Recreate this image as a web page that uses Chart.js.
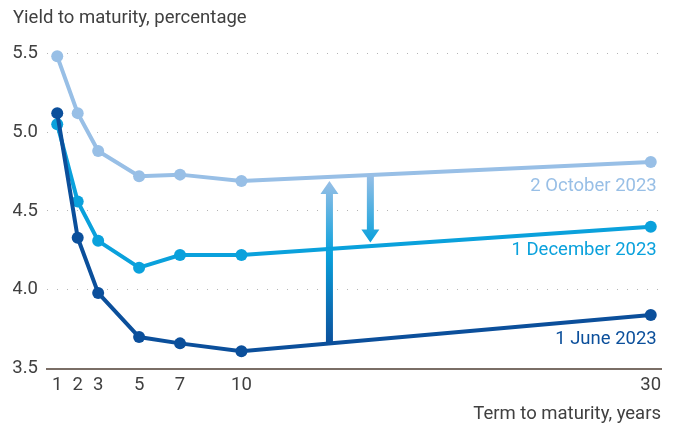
<!DOCTYPE html>
<html>
<head>
<meta charset="utf-8">
<script src="https://cdn.jsdelivr.net/npm/chart.js@4.4.1/dist/chart.umd.min.js"></script>
<style>
  html, body { margin: 0; padding: 0; background: #ffffff; }
  #wrap { width: 673px; height: 429px; }
</style>
</head>
<body>
<div id="wrap"><canvas id="c" width="673" height="429"></canvas></div>
<script>
// Term to maturity (years) and yields (%)
const terms = [1, 2, 3, 5, 7, 10, 30];
const june2023 = [5.12, 4.33, 3.98, 3.70, 3.66, 3.61, 3.84];
const oct2023 = [5.48, 5.12, 4.88, 4.72, 4.73, 4.69, 4.81];
const dec2023 = [5.05, 4.56, 4.31, 4.14, 4.22, 4.22, 4.40];

const seriesNames = ['1 June 2023', '2 October 2023', '1 December 2023'];
const xTicks = [1, 2, 3, 5, 7, 10, 30];
const yTicks = [3.5, 4.0, 4.5, 5.0, 5.5];

// Arrows: [term, from yield, to yield]
const arrowUp = [14.3, 3.661, 4.69];
const arrowDown = [16.3, 4.728, 4.30];

const C_DARK = '#0b4f9b';
const C_MID = '#0aa1dc';
const C_LIGHT = '#98bfe6';
const C_TEXT = '#404040';
const FONT = 'Roboto, "Noto Sans", sans-serif';
const FS = 18.5;

function toXY(xs, ys) { return xs.map((x, i) => ({ x: x, y: ys[i] })); }

function drawArrow(ctx, chart, spec, stops) {
  const xs = chart.scales.x, ys = chart.scales.y;
  const x = xs.getPixelForValue(spec[0]);
  const y0 = ys.getPixelForValue(spec[1]);
  const y1 = ys.getPixelForValue(spec[2]);
  const dir = y1 < y0 ? -1 : 1;
  const headH = 13, headW = 18, shaft = 7;
  const grad = ctx.createLinearGradient(0, Math.min(y0, y1), 0, Math.max(y0, y1));
  stops.forEach(s => grad.addColorStop(s[0], s[1]));
  ctx.save();
  ctx.fillStyle = grad;
  const yHeadBase = y1 - dir * headH;
  ctx.beginPath();
  ctx.moveTo(x - shaft / 2, y0);
  ctx.lineTo(x - shaft / 2, yHeadBase);
  ctx.lineTo(x - headW / 2, yHeadBase);
  ctx.lineTo(x, y1);
  ctx.lineTo(x + headW / 2, yHeadBase);
  ctx.lineTo(x + shaft / 2, yHeadBase);
  ctx.lineTo(x + shaft / 2, y0);
  ctx.closePath();
  ctx.fill();
  ctx.restore();
}

const arrowsPlugin = {
  id: 'arrows',
  beforeDatasetsDraw(chart) {
    const ctx = chart.ctx;
    drawArrow(ctx, chart, arrowUp, [[0, C_LIGHT], [0.45, C_MID], [1, C_DARK]]);
    drawArrow(ctx, chart, arrowDown, [[0, C_LIGHT], [1, C_MID]]);
  }
};

// Series names placed under the last point of each curve
const endLabelsPlugin = {
  id: 'endLabels',
  afterDatasetsDraw(chart) {
    const ctx = chart.ctx;
    ctx.save();
    ctx.font = FS + 'px ' + FONT;
    ctx.textAlign = 'right';
    ctx.textBaseline = 'middle';
    chart.data.datasets.forEach((ds, i) => {
      const meta = chart.getDatasetMeta(i);
      const last = meta.data[meta.data.length - 1];
      ctx.fillStyle = ds.borderColor;
      ctx.fillText(ds.label, last.x + 6, last.y + 24);
    });
    ctx.restore();
  }
};

new Chart(document.getElementById('c'), {
  type: 'line',
  data: {
    datasets: [
      { label: seriesNames[0], data: toXY(terms, june2023), borderColor: C_DARK, backgroundColor: C_DARK },
      { label: seriesNames[1], data: toXY(terms, oct2023), borderColor: C_LIGHT, backgroundColor: C_LIGHT },
      { label: seriesNames[2], data: toXY(terms, dec2023), borderColor: C_MID, backgroundColor: C_MID }
    ]
  },
  options: {
    responsive: false,
    animation: false,
    clip: false,
    layout: { padding: { top: 7, left: 13, right: 12, bottom: 4 } },
    elements: {
      line: { borderWidth: 4, tension: 0 },
      point: { radius: 6, borderWidth: 0, hoverRadius: 6 }
    },
    plugins: {
      legend: { display: false },
      tooltip: { enabled: false },
      title: {
        display: true,
        text: 'Yield to maturity, percentage',
        align: 'start',
        color: C_TEXT,
        font: { family: FONT, size: FS, weight: 'normal', lineHeight: 1.2 },
        padding: { top: 0, bottom: 24 }
      }
    },
    scales: {
      x: {
        type: 'linear',
        min: 0.5,
        max: 30.5,
        afterBuildTicks(scale) { scale.ticks = xTicks.map(v => ({ value: v })); },
        grid: { display: false, drawTicks: false },
        border: { display: true, color: '#7a6e66', width: 2 },
        ticks: {
          color: C_TEXT,
          font: { family: FONT, size: FS },
          padding: 6,
          maxRotation: 0,
          autoSkip: false,
          callback: v => String(v)
        },
        title: {
          display: true,
          text: 'Term to maturity, years',
          align: 'end',
          color: C_TEXT,
          font: { family: FONT, size: FS },
          padding: { top: 0, bottom: 0 }
        }
      },
      y: {
        min: 3.5,
        max: 5.5,
        afterBuildTicks(scale) { scale.ticks = yTicks.map(v => ({ value: v })); },
        afterFit(scale) { scale.width = 34; },
        grid: {
          drawTicks: false,
          color: ctx => ctx.tick && ctx.tick.value === 3.5 ? 'rgba(0,0,0,0)' : '#b4b4b4',
          lineWidth: 1
        },
        border: { display: false, dash: [1, 9] },
        ticks: {
          color: C_TEXT,
          font: { family: FONT, size: FS },
          padding: 9,
          callback: v => v.toFixed(1)
        }
      }
    }
  },
  plugins: [arrowsPlugin, endLabelsPlugin]
});
</script>
</body>
</html>
